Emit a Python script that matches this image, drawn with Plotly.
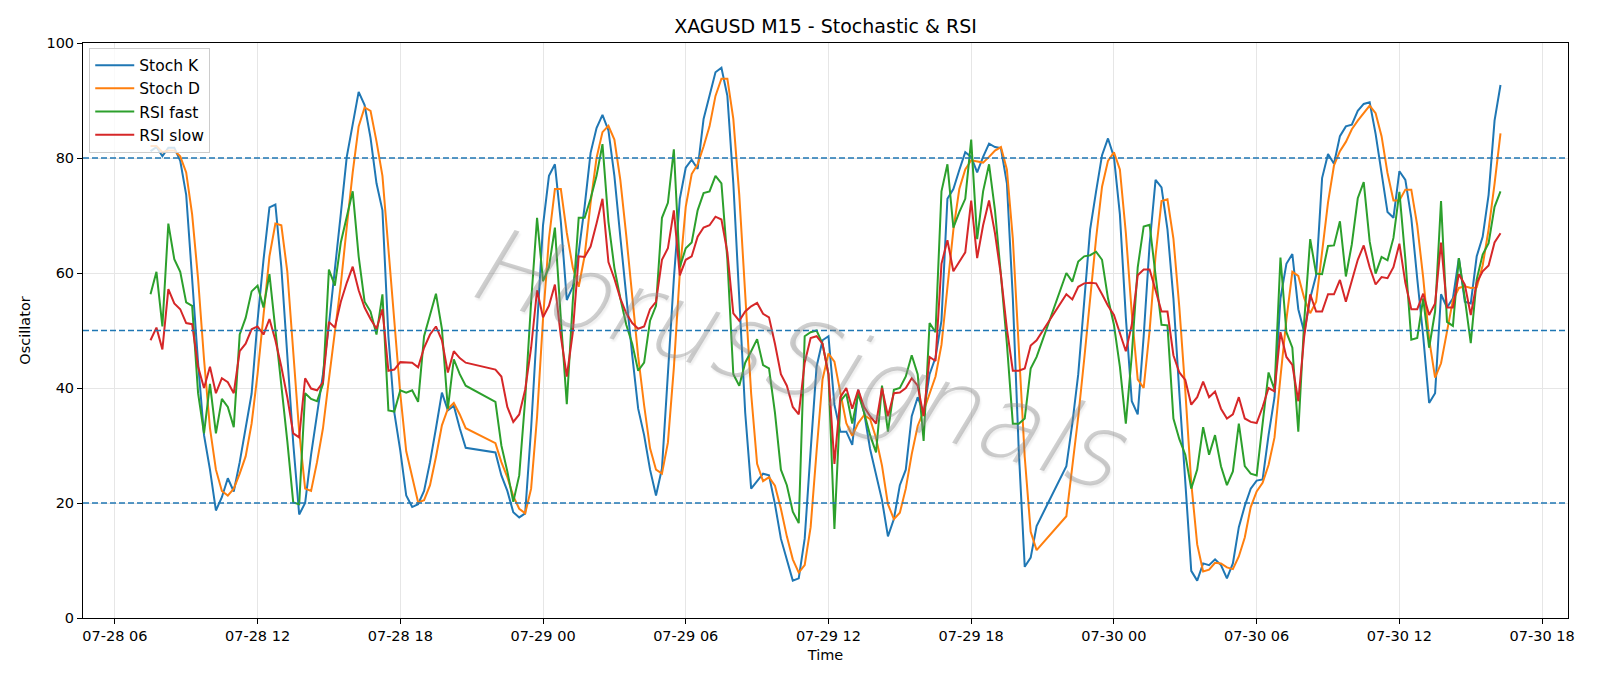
import pandas as pd
import plotly.graph_objects as go

# Trading sessions (15-minute bars); the daily break 21:00-21:45 has no bars
sessions = [("2025-07-28 07:30", "2025-07-28 20:45"),
            ("2025-07-28 22:00", "2025-07-29 20:45"),
            ("2025-07-29 22:00", "2025-07-30 16:15")]
times = []
for a, b in sessions:
    times += list(pd.date_range(a, b, freq="15min"))

stoch_k = [
    81.2, 81.9, 80.3, 81.8, 81.8, 79.5, 73.6, 59.0, 44.4, 31.8,
    25.8, 18.7, 21.0, 24.3, 22.0, 27.1, 32.8, 39.0, 51.7, 62.3,
    71.4, 71.9, 61.0, 45.0, 30.4, 18.0, 20.0, 28.4, 35.7, 42.4,
    51.0, 60.3, 70.3, 80.2, 85.8, 91.5, 89.2, 83.5, 75.6, 70.9,
    49.0, 35.7, 29.1, 21.3, 19.3, 19.8, 22.1, 27.1, 33.0, 39.2,
    36.1, 36.9, 33.0, 29.6,
    28.8, 24.8, 22.1, 18.4, 17.5, 18.2, 33.0, 51.7, 68.3, 76.9,
    78.9, 68.9, 55.3, 57.6, 63.6, 71.6, 80.9, 85.2, 87.5, 84.8,
    76.9, 66.3, 55.6, 45.7, 36.4, 31.8, 25.8, 21.3, 26.0, 42.4,
    59.0, 72.9, 78.3, 79.7, 78.1, 86.8, 90.8, 94.9, 95.7, 90.8,
    75.6, 55.6, 35.7, 22.5, 23.8, 25.1, 24.8, 19.8, 13.8, 10.2,
    6.5, 6.9, 13.8, 29.1, 43.7, 48.3, 49.0, 37.1, 32.4, 32.4,
    30.1, 39.7, 35.7, 29.4, 25.1, 20.5, 14.2, 17.2, 23.1, 25.8,
    35.1, 38.4, 35.7, 42.4, 45.3, 51.7, 72.9, 74.6, 77.9, 81.0,
    80.2, 77.5, 80.2, 82.5, 81.9, 81.7, 75.6, 55.6, 29.1, 8.9,
    10.5, 16.0,
    26.4, 33.8, 42.4, 55.6, 67.6, 74.2, 80.5, 83.4, 80.2, 70.2,
    52.3, 37.7, 35.4, 49.0, 65.0, 76.2, 74.9, 67.6, 55.6, 39.1,
    23.8, 8.2, 6.5, 9.5, 9.2, 10.2, 9.2, 6.9, 9.5, 15.8,
    19.5, 22.5, 23.9, 24.1, 31.8, 38.4, 55.6, 61.6, 63.3, 53.7,
    49.7, 55.6, 59.6, 76.5, 80.7, 79.0, 83.8, 85.5, 85.8, 88.2,
    89.4, 89.7, 84.2, 77.5, 70.6, 69.6, 77.7, 76.2, 69.6, 59.0,
    49.0, 37.4, 39.1, 56.3, 54.0, 55.6, 62.6, 55.0, 54.7, 62.9,
    66.3, 73.6, 86.5, 92.7,
]

stoch_d = [
    82.1, 82.1, 81.0, 81.3, 81.3, 80.3, 77.5, 70.2, 59.0, 45.0,
    33.0, 25.8, 22.1, 21.3, 22.5, 25.1, 28.1, 33.8, 42.4, 53.0,
    62.9, 68.6, 68.3, 60.3, 45.7, 32.4, 22.5, 22.1, 27.1, 33.0,
    41.5, 49.5, 58.0, 68.0, 77.5, 85.5, 88.8, 88.2, 82.9, 76.9,
    64.0, 52.0, 39.0, 29.0, 24.5, 20.1, 20.5, 23.1, 28.0, 33.5,
    36.4, 37.4, 35.4, 33.0,
    30.4, 27.1, 24.5, 21.2, 19.0, 18.2, 22.5, 35.0, 52.0, 66.0,
    74.6, 74.6, 67.0, 61.0, 57.6, 63.0, 72.2, 80.0, 84.5, 85.6,
    83.2, 76.2, 66.5, 56.0, 45.5, 37.0, 29.5, 25.8, 25.1, 30.5,
    43.5, 60.0, 71.5, 77.2, 78.9, 82.0, 85.5, 90.8, 93.8, 93.8,
    86.8, 73.6, 55.6, 39.0, 26.8, 23.8, 24.5, 23.0, 19.0, 14.2,
    10.2, 7.9, 9.2, 15.8, 29.0, 41.5, 46.0, 44.6, 39.2, 33.9,
    31.7, 33.9, 35.3, 34.6, 31.3, 26.5, 19.8, 17.2, 18.3, 22.5,
    28.5, 33.4, 36.0, 38.9, 42.0, 47.5, 58.0, 67.5, 74.6, 78.0,
    79.6, 79.4, 79.2, 80.2, 81.3, 81.9, 78.0, 66.0, 47.0, 28.0,
    15.0, 11.8,
    17.7, 26.0, 35.0, 45.0, 56.0, 66.0, 75.0, 79.5, 81.0, 78.0,
    67.0, 53.0, 41.5, 40.0, 50.0, 63.0, 72.5, 72.8, 66.0, 54.0,
    39.5, 23.5, 12.8, 8.1, 8.4, 9.6, 9.5, 8.8, 8.5, 10.7,
    14.0, 19.3, 22.0, 23.5, 26.6, 31.4, 41.9, 51.9, 60.2, 59.5,
    55.6, 53.0, 55.0, 64.0, 72.3, 78.7, 81.2, 82.8, 85.0, 86.5,
    87.8, 89.1, 87.8, 83.8, 77.4, 72.6, 72.6, 74.5, 74.5, 68.3,
    59.2, 48.5, 41.8, 44.3, 49.8, 55.3, 57.4, 57.7, 57.4, 57.5,
    61.3, 67.6, 75.5, 84.3,
]

rsi_fast = [
    56.3, 60.2, 50.7, 68.6, 62.4, 60.2, 54.9, 54.3, 39.1, 32.1,
    40.7, 32.1, 38.1, 36.7, 33.2, 49.3, 52.2, 56.8, 57.8, 54.0,
    59.8, 50.3, 41.0, 30.8, 20.1, 19.8, 39.1, 38.1, 37.7, 40.7,
    60.6, 57.8, 65.3, 69.6, 74.2, 62.9, 55.0, 53.3, 49.3, 56.3,
    36.1, 35.9, 39.6, 39.2, 39.6, 37.6, 49.0, 52.7, 56.4, 50.3,
    36.4, 45.0, 42.4, 40.4,
    37.6, 30.0, 25.5, 20.2, 24.8, 38.0, 55.0, 69.6, 58.6, 61.0,
    67.9, 52.0, 37.2, 55.0, 69.6, 69.6, 72.9, 76.9, 82.4, 68.9,
    60.9, 55.6, 51.0, 47.7, 43.0, 44.4, 51.7, 54.3, 69.6, 72.2,
    81.5, 61.0, 64.3, 65.3, 70.9, 73.9, 74.2, 76.9, 75.6, 62.3,
    42.4, 40.4, 44.4, 46.4, 48.5, 44.0, 43.4, 35.7, 25.8, 23.1,
    18.5, 16.5, 49.0, 49.7, 50.0, 47.7, 42.4, 15.5, 37.7, 39.0,
    33.8, 39.0, 35.7, 31.8, 28.8, 40.4, 32.4, 39.7, 40.0, 42.0,
    45.7, 42.4, 30.8, 51.3, 49.7, 74.2, 78.9, 67.9, 70.6, 72.9,
    83.2, 65.9, 74.2, 78.9, 70.9, 59.6, 47.7, 33.8, 33.8, 34.7,
    43.4, 45.4,
    60.0, 58.5, 62.0, 62.9, 63.1, 63.7, 62.3, 55.6, 51.0, 43.7,
    33.8, 45.7, 61.0, 68.1, 68.4, 59.6, 51.0, 50.9, 34.7, 31.1,
    28.4, 22.5, 25.8, 33.2, 28.4, 31.8, 26.4, 23.1, 25.5, 33.8,
    26.4, 25.1, 24.8, 33.8, 42.7, 39.7, 62.7, 49.7, 47.0, 32.4,
    51.7, 65.9, 59.9, 59.8, 64.7, 64.8, 69.0, 59.4, 65.0, 73.0,
    75.8, 65.5, 59.9, 62.8, 62.2, 66.1, 74.1, 62.4, 48.4, 48.7,
    55.6, 47.0, 53.3, 72.5, 51.5, 50.8, 62.6, 55.6, 47.8, 58.9,
    63.2, 65.2, 71.5, 74.2,
]

rsi_slow = [
    48.3, 50.5, 46.7, 57.2, 54.7, 53.7, 51.3, 51.1, 43.7, 40.0,
    43.7, 39.1, 41.7, 41.0, 39.1, 46.4, 47.7, 50.2, 50.7, 49.3,
    52.0, 48.3, 43.7, 38.4, 32.1, 31.4, 41.7, 39.9, 39.6, 41.0,
    51.5, 50.5, 55.0, 58.3, 61.1, 57.0, 54.0, 52.0, 50.3, 53.7,
    43.0, 43.2, 44.5, 44.4, 44.4, 43.6, 47.0, 49.3, 50.7, 48.3,
    42.7, 46.4, 45.2, 44.4,
    43.2, 42.0, 36.7, 34.1, 35.4, 39.7, 47.0, 57.0, 52.3, 54.3,
    58.0, 49.0, 42.0, 49.6, 62.9, 62.8, 64.6, 68.6, 72.9, 61.9,
    59.0, 55.6, 53.0, 51.3, 50.3, 50.7, 53.7, 55.0, 62.3, 64.3,
    70.9, 59.6, 62.3, 62.9, 66.3, 67.9, 68.3, 69.8, 69.3, 63.6,
    53.0, 51.7, 53.3, 54.2, 54.8, 52.9, 52.3, 47.7, 42.4, 40.4,
    36.7, 35.4, 44.4, 48.7, 49.0, 47.7, 42.4, 26.8, 38.4, 40.0,
    36.4, 39.7, 36.7, 35.1, 33.8, 40.0, 35.1, 39.1, 39.2, 40.0,
    41.7, 40.4, 35.1, 45.4, 44.7, 61.6, 65.7, 60.3, 62.0, 63.6,
    72.6, 62.6, 68.3, 72.6, 66.9, 59.6, 50.3, 43.0, 43.0, 43.4,
    47.4, 48.3,
    56.3, 55.4, 57.6, 58.2, 58.3, 58.2, 56.3, 54.3, 52.7, 49.7,
    46.4, 51.0, 59.6, 60.6, 60.6, 57.0, 53.3, 53.3, 45.7, 42.7,
    41.4, 37.1, 38.4, 41.1, 38.4, 39.4, 36.4, 34.7, 35.4, 38.4,
    34.7, 34.1, 33.9, 36.7, 40.0, 39.4, 49.7, 45.4, 44.0, 37.7,
    49.0, 56.3, 53.3, 53.3, 56.3, 56.3, 58.8, 55.0, 58.6, 62.3,
    64.8, 61.0, 58.0, 59.3, 59.1, 61.0, 65.1, 58.3, 53.7, 53.7,
    56.4, 52.7, 54.7, 65.3, 54.0, 54.0, 59.8, 58.0, 52.7, 58.3,
    60.3, 61.3, 65.3, 66.9,
]

levels = [20, 50, 80]
tick_times = list(pd.date_range("2025-07-28 06:00", "2025-07-30 18:00", freq="6h"))
tick_text = [t.strftime("%m-%d %H") for t in tick_times]

series = [("Stoch K", stoch_k, "#1f77b4"),
          ("Stoch D", stoch_d, "#ff7f0e"),
          ("RSI fast", rsi_fast, "#2ca02c"),
          ("RSI slow", rsi_slow, "#d62728")]

FONT = "DejaVu Sans"
fig = go.Figure()
for name, vals, col in series:
    fig.add_trace(go.Scatter(x=times, y=vals, mode="lines", name=name,
                             legendgroup=name,
                             line=dict(color=col, width=2)))

for lv in levels:
    fig.add_shape(type="line", xref="paper", x0=0, x1=1, yref="y", y0=lv, y1=lv,
                  line=dict(color="#1f77b4", width=1.5, dash="6px,3px"), layer="above")

# x-range with matplotlib-like 5% margins
t0, t1 = times[0], times[-1]
span = t1 - t0
xr = [t0 - span * 0.05, t1 + span * 0.05]

axis_common = dict(showline=True, linecolor="black", linewidth=1, mirror=True,
                   ticks="outside", ticklen=5, tickcolor="black", tickwidth=1,
                   showgrid=True, gridcolor="#e6e6e6", gridwidth=1, zeroline=False,
                   tickfont=dict(family=FONT, size=14.5, color="black"))

fig.update_xaxes(range=xr, tickvals=tick_times, ticktext=tick_text,
                 title=dict(text="Time", font=dict(family=FONT, size=14.5, color="black"),
                            standoff=6),
                 **axis_common)
fig.update_yaxes(range=[0, 100], tickvals=[0, 20, 40, 60, 80, 100],
                 title=dict(text="Oscillator", font=dict(family=FONT, size=14.5, color="black"),
                            standoff=12),
                 **axis_common)

fig.add_annotation(text="HorusSignals", xref="paper", yref="paper", x=0.481, y=0.452,
                   showarrow=False, textangle=17,
                   font=dict(family="DejaVu Sans Light, DejaVu Sans ExtraLight, DejaVu Sans",
                             size=104, color="rgba(140,140,140,0.42)",
                             style="italic", weight=200,
                             shadow="2px 2px 2px rgba(0,0,0,0.15)"))

fig.update_layout(
    width=1600, height=686,
    margin=dict(l=83, r=32, t=43, b=68),
    paper_bgcolor="white", plot_bgcolor="white",
    title=dict(text="XAGUSD M15 - Stochastic & RSI", x=0.5, xref="paper",
               y=1 - 26 / 686, yref="container", yanchor="middle", xanchor="center",
               font=dict(family=FONT, size=19, color="black")),
    legend=dict(x=0.0042, y=0.992, xanchor="left", yanchor="top",
                bgcolor="rgba(255,255,255,0.8)", bordercolor="#cccccc", borderwidth=1,
                font=dict(family=FONT, size=15.5, color="black"),
                itemwidth=39, tracegroupgap=0),
    showlegend=True,
)

fig.write_html("out.html")
